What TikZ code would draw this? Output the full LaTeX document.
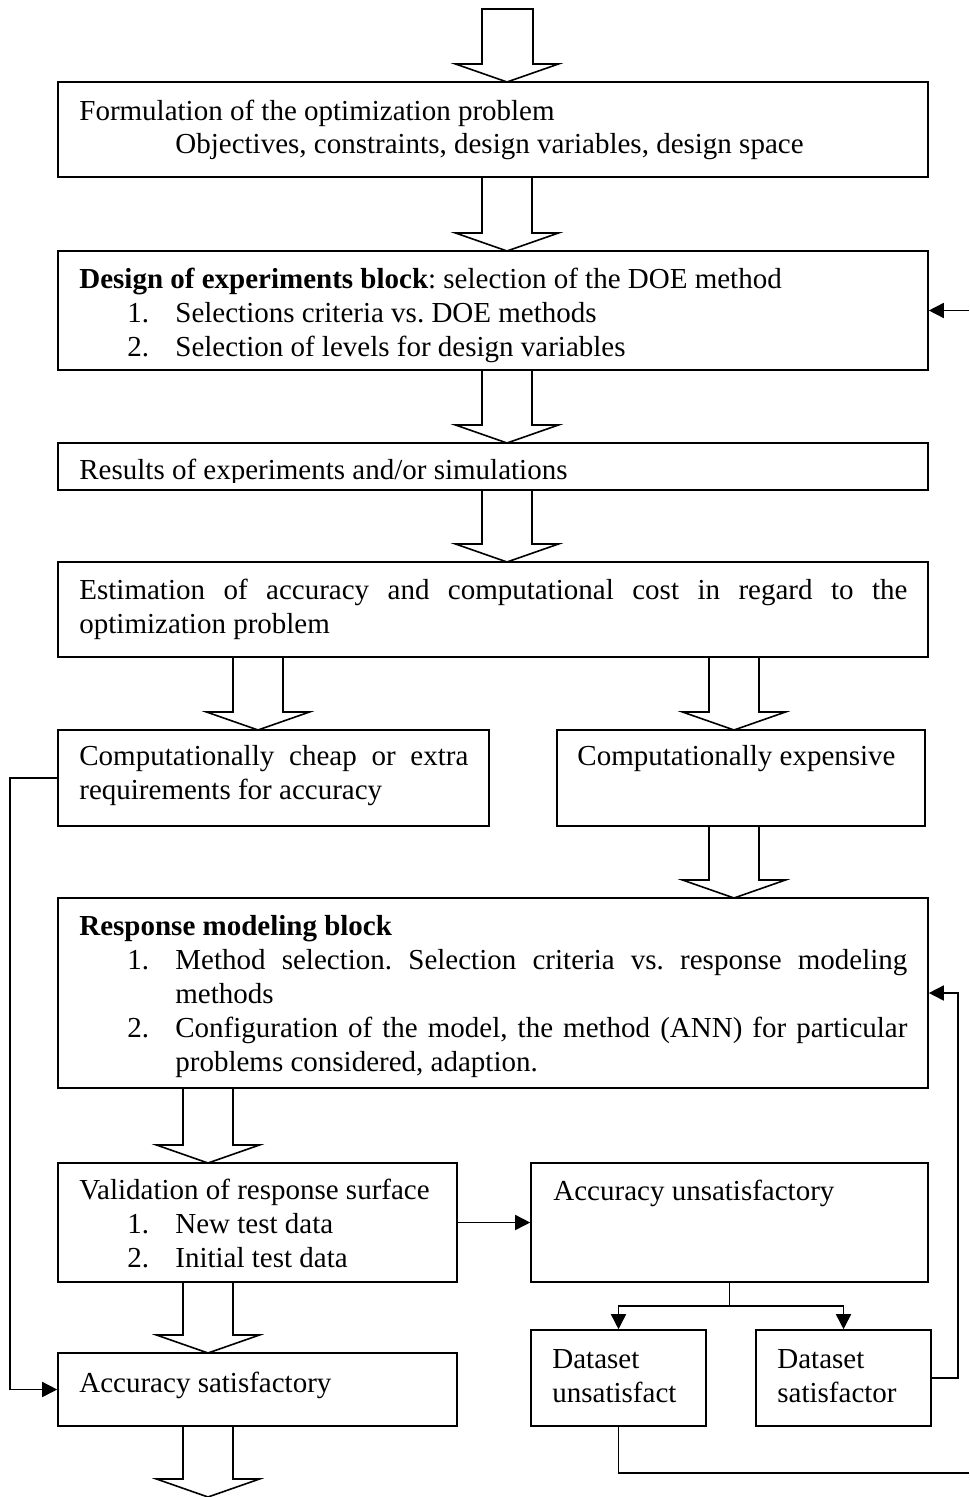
\documentclass[tikz,border=0pt]{standalone}
\usepackage{fontspec}
\setmainfont{Liberation Serif}
\usetikzlibrary{arrows.meta,fit}
\newcommand\blockarr[3]{\draw[barrow] (#1-25,#2) -- (#1-25,#3-18) -- (#1-51.5,#3-18) -- (#1,#3) -- (#1+51.5,#3-18) -- (#1+25,#3-18) -- (#1+25,#2);}
\begin{document}
\frenchspacing
\begin{tikzpicture}[x=0.5pt,y=-0.5pt,
  box/.style={draw, line width=0.8pt, inner sep=0pt, rectangle},
  txt/.style={anchor=base west, inner sep=0pt, font=\fontsize{14.5}{17}\selectfont},
  barrow/.style={line width=0.8pt, line join=miter},
  conn/.style={line width=0.8pt, -{Triangle[length=7.5pt,width=7.5pt]}},
  plain/.style={line width=0.8pt}]
\useasboundingbox (0,0) rectangle (969,1497);

% boxes
\node[box, fit={(58,82)(928,177)}] (b1) {};
\node[box, fit={(58,251)(928,370)}] (b2) {};
\node[box, fit={(58,443)(928,490)}] (b3) {};
\node[box, fit={(58,562)(928,657)}] (b4) {};
\node[box, fit={(58,730)(489,826)}] (b5l) {};
\node[box, fit={(557,730)(925,826)}] (b5r) {};
\node[box, fit={(58,898)(928,1088)}] (b6) {};
\node[box, fit={(58,1163)(457,1282)}] (b7) {};
\node[box, fit={(531,1163)(928,1282)}] (b8) {};
\node[box, fit={(531,1330)(706,1426)}] (b9) {};
\node[box, fit={(756,1330)(931,1426)}] (b10) {};
\node[box, fit={(58,1353)(457,1426)}] (b11) {};

% texts
\node[txt] (t1a) at (79,121) {Formulation of the optimization problem};
\node[txt] (t1b) at (175,154) {Objectives, constraints, design variables, design space};

\node[txt] (t2a) at (79,289) {\textbf{Design of experiments block}: selection of the DOE method};
\node[txt] (t2b) at (127,323) {1.};
\node[txt] (t2c) at (175,323) {Selections criteria vs. DOE methods};
\node[txt] (t2d) at (127,357) {2.};
\node[txt] (t2e) at (175,357) {Selection of levels for design variables};

\begin{scope}
\clip (58,443) rectangle (928,482);
\node[txt] (t3) at (79,480) {Results of experiments and/or simulations};
\end{scope}

\node[txt] (t4a) at (79,599) {\makebox[414pt][s]{Estimation of accuracy and computational cost in regard to the}};
\node[txt] (t4b) at (79,633) {optimization problem};

\node[txt] (t5a) at (79,765) {\makebox[194.5pt][s]{Computationally cheap or extra}};
\node[txt] (t5b) at (79,799) {requirements for accuracy};
\node[txt] (t5c) at (577,765) {Computationally expensive};

\node[txt] (t6a) at (79,935) {\textbf{Response modeling block}};
\node[txt] (t6b) at (127,969) {1.};
\node[txt] (t6c) at (175,969) {\makebox[366pt][s]{Method selection. Selection criteria vs. response modeling}};
\node[txt] (t6d) at (175,1003) {methods};
\node[txt] (t6e) at (127,1037) {2.};
\node[txt] (t6f) at (175,1037) {\makebox[366pt][s]{Configuration of the model, the method (ANN) for particular}};
\node[txt] (t6g) at (175,1071) {problems considered, adaption.};

\node[txt] (t7a) at (79,1199) {Validation of response surface};
\node[txt] (t7b) at (127,1233) {1.};
\node[txt] (t7c) at (175,1233) {New test data};
\node[txt] (t7d) at (127,1267) {2.};
\node[txt] (t7e) at (175,1267) {Initial test data};

\node[txt] (t8) at (553,1200) {Accuracy unsatisfactory};
\node[txt] (t9a) at (552,1368) {Dataset};
\node[txt] (t9b) at (552,1402) {unsatisfact};
\node[txt] (t10a) at (777,1368) {Dataset};
\node[txt] (t10b) at (777,1402) {satisfactor};
\node[txt] (t11) at (79,1392) {Accuracy satisfactory};

% block arrows
\draw[barrow] (482,9) -- (482,64) -- (455.5,64) -- (507,82) -- (558.5,64) -- (533,64) -- (533,9) -- cycle;
\blockarr{507}{177}{251}
\blockarr{507}{370}{443}
\blockarr{507}{490}{562}
\blockarr{258}{657}{730}
\blockarr{734}{657}{730}
\blockarr{734}{826}{898}
\blockarr{208}{1088}{1163}
\blockarr{208}{1282}{1353}
\blockarr{208}{1426}{1497}

% connectors
\coordinate (inDOE) at (969,310.5);
\draw[conn] (inDOE) -- (b2.east);
\coordinate (leftbus) at (10,778);
\draw[conn] (b5l.west) -- (leftbus) |- (b11.west);
\draw[conn] (b7.east) -- (b8.west);
\coordinate (split) at (729.5,1306);
\draw[plain] (b8.south) -- (split);
\draw[conn] (split) -| (b9.north);
\draw[conn] (split) -| (b10.north);
\coordinate (rightbus) at (958,1378);
\draw[conn] (b10.east) -- (rightbus) |- (b6.east);
\coordinate (bottomend) at (969,1473);
\draw[plain] (b9.south) |- (bottomend);
\end{tikzpicture}
\end{document}
